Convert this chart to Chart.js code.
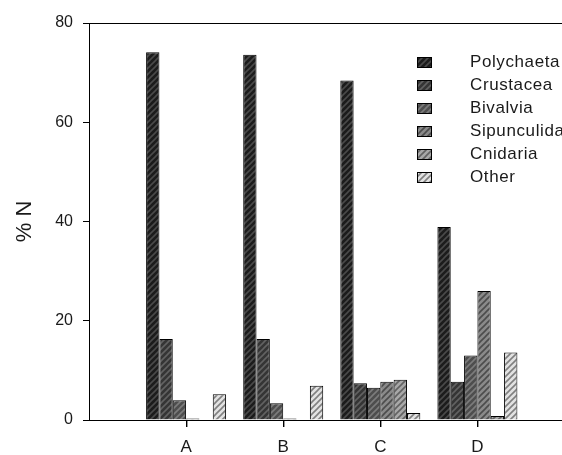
<!DOCTYPE html>
<html>
<head>
<meta charset="utf-8">
<script src="https://cdn.jsdelivr.net/npm/chart.js@4/dist/chart.umd.min.js"></script>
<style>
  html, body { margin: 0; padding: 0; background: #fff; }
  #wrap { width: 562px; height: 455px; overflow: hidden; position: relative; }
  #c { display: block; }
</style>
</head>
<body>
<div id="wrap"><canvas id="c" width="590" height="455"></canvas></div>
<script>
// ---- data ----
const categories = ['A', 'B', 'C', 'D'];
const seriesNames = ['Polychaeta', 'Crustacea', 'Bivalvia', 'Sipunculida', 'Cnidaria', 'Other'];
const polychaeta  = [74.1, 73.6, 68.4, 38.9];
const crustacea   = [16.3, 16.3, 7.4, 7.7];
const bivalvia    = [4.0, 3.4, 6.5, 13.0];
const sipunculida = [0.3, 0.3, 7.7, 26.0];
const cnidaria    = [0, 0, 8.1, 0.8];
const other       = [5.2, 6.9, 1.4, 13.6];
const yTicks = [0, 20, 40, 60, 80];
const yTitle = '% N';

const seriesValues = [polychaeta, crustacea, bivalvia, sipunculida, cnidaria, other];

// ---- styles ----
const hatchStyles = [
  ['#1c1c1c', '#4a4a4a'],
  ['#353535', '#626262'],
  ['#4e4e4e', '#7c7c7c'],
  ['#8a8a8a', '#4c4c4c'],
  ['#a8a8a8', '#626262'],
  ['#e2e2e2', '#808080']
];
function makeHatch(bg, line) {
  const s = 6;
  const cv = document.createElement('canvas');
  cv.width = s; cv.height = s;
  const g = cv.getContext('2d');
  g.fillStyle = bg; g.fillRect(0, 0, s, s);
  g.strokeStyle = line; g.lineWidth = 1.6;
  g.beginPath();
  g.moveTo(-1, s + 1); g.lineTo(s + 1, -1);
  g.moveTo(-1, 1); g.lineTo(1, -1);
  g.moveTo(s - 1, s + 1); g.lineTo(s + 1, s - 1);
  g.stroke();
  return document.getElementById('c').getContext('2d').createPattern(cv, 'repeat');
}
const patterns = hatchStyles.map(h => makeHatch(h[0], h[1]));

const datasets = seriesNames.map((name, i) => ({
  label: name,
  data: seriesValues[i].map((v, j) => ({ x: j + 1, y: v })),
  backgroundColor: patterns[i],
  borderColor: '#000',
  borderWidth: 1,
  barPercentage: 1.0,
  categoryPercentage: 0.824
}));

const FONT = '"Liberation Sans", Arial, sans-serif';

const framePlugin = {
  id: 'frame',
  afterDraw(chart) {
    const { ctx, chartArea } = chart;
    const xs = chart.scales.x;
    ctx.save();
    ctx.fillStyle = '#000';
    ctx.fillRect(chartArea.left, Math.round(chartArea.top), chartArea.right - chartArea.left, 1);
    const yb = Math.round(chartArea.bottom);
    for (let i = 0; i < xs.ticks.length; i++) {
      const px = Math.round(xs.getPixelForTick(i));
      ctx.fillRect(px, yb, 1.4, 7);
    }
    ctx.restore();
  }
};

const legendPlugin = {
  id: 'customLegend',
  afterDraw(chart) {
    const { ctx } = chart;
    ctx.save();
    const x0 = 417, y0 = 62, dy = 23;
    chart.data.datasets.forEach((ds, i) => {
      const yc = y0 + i * dy;
      ctx.fillStyle = ds.backgroundColor;
      ctx.fillRect(x0, yc - 5, 14, 10);
      ctx.strokeStyle = '#000';
      ctx.lineWidth = 1;
      ctx.strokeRect(x0 + 0.5, yc - 5 + 0.5, 14, 10);
      ctx.fillStyle = '#1a1a1a';
      ctx.font = '17px ' + FONT;
      ctx.textBaseline = 'middle';
      ctx.textAlign = 'left';
      try { ctx.letterSpacing = '0.6px'; } catch (e) {}
      ctx.fillText(ds.label, 470, yc);
    });
    ctx.restore();
  }
};

new Chart(document.getElementById('c'), {
  type: 'bar',
  data: { datasets },
  options: {
    responsive: false,
    animation: false,
    devicePixelRatio: 1,
    layout: { padding: { top: 23, right: 15.5, left: 0, bottom: 0 } },
    plugins: {
      legend: { display: false },
      tooltip: { enabled: false }
    },
    scales: {
      x: {
        type: 'linear',
        min: 0,
        max: 5,
        offset: false,
        afterBuildTicks(scale) {
          scale.ticks = categories.map((c, i) => ({ value: i + 1 }));
        },
        afterFit(scale) { scale.height = 35; },
        ticks: {
          callback: (v) => categories[v - 1] || '',
          color: '#1a1a1a',
          font: { family: FONT, size: 17 },
          padding: 11,
          maxRotation: 0,
          autoSkip: false
        },
        grid: { display: false, offset: false, drawOnChartArea: false, tickLength: 6, color: '#000' },
        border: { display: true, color: '#000', width: 1 }
      },
      y: {
        min: 0,
        max: 80,
        afterBuildTicks(scale) {
          scale.ticks = yTicks.map(v => ({ value: v }));
        },
        afterFit(scale) { scale.width = 89; },
        ticks: {
          color: '#1a1a1a',
          font: { family: FONT, size: 16 },
          padding: 10
        },
        grid: { display: true, offset: false, drawOnChartArea: false, tickLength: 6, color: '#000' },
        border: { display: true, color: '#000', width: 1 },
        title: {
          display: true,
          text: yTitle,
          color: '#1a1a1a',
          font: { family: FONT, size: 22 },
          padding: { top: 12, bottom: 6 }
        }
      }
    }
  },
  plugins: [framePlugin, legendPlugin]
});
</script>
</body>
</html>
